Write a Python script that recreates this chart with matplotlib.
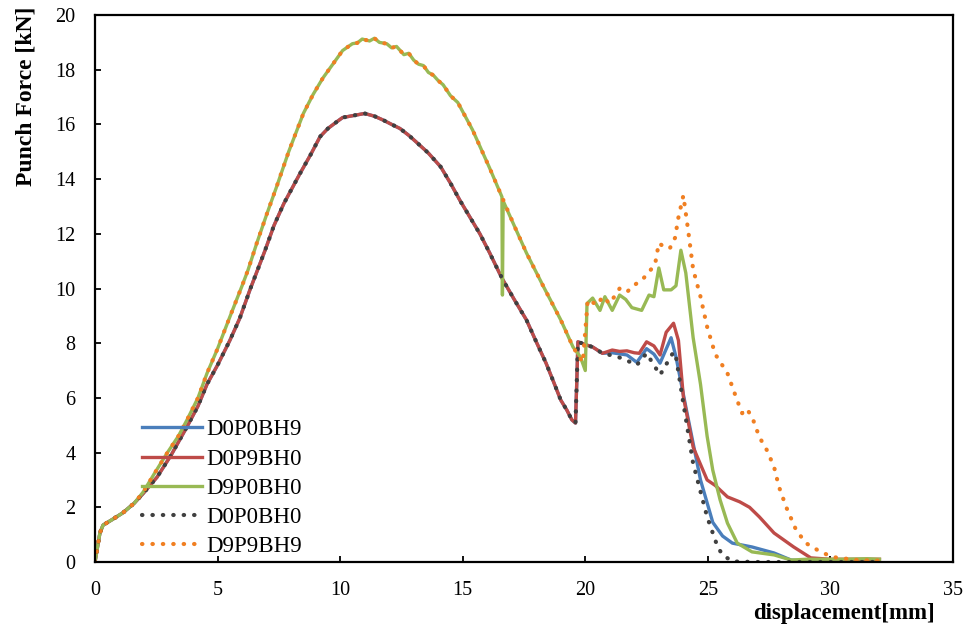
import numpy as np
import matplotlib
matplotlib.use('Agg')
import matplotlib.pyplot as plt

plt.rcParams['font.family'] = 'Liberation Serif'
plt.rcParams['axes.linewidth'] = 1.6
plt.rcParams['xtick.direction'] = 'in'
plt.rcParams['ytick.direction'] = 'in'
plt.rcParams['xtick.major.size'] = 4
plt.rcParams['ytick.major.size'] = 4
plt.rcParams['xtick.major.width'] = 1.3
plt.rcParams['ytick.major.width'] = 1.3
plt.rcParams['xtick.labelsize'] = 14.5
plt.rcParams['ytick.labelsize'] = 14.5

# shared start of the low curves (D0P0BH9, D0P9BH0, D0P0BH0)
low_x = [0, 0.2, 0.33, 0.7, 1.14, 1.6, 1.96, 2.53, 3.1, 3.75, 4.2, 4.57, 5.0, 5.5, 5.9, 6.32,
         6.94, 7.3, 7.7, 8.0, 8.36, 8.8, 9.18, 9.5, 9.87, 10.1, 10.4, 10.7, 11.0, 11.4, 11.75,
         12.1, 12.44, 12.8, 13.1, 13.6, 14.1, 14.5, 14.9, 15.3, 15.7, 16.1, 16.5, 16.65, 17.1,
         17.6, 18.0, 18.4, 18.7, 19.0, 19.25, 19.45, 19.6, 19.65, 19.7, 20.0, 20.3, 20.7]
low_y = [0, 1.06, 1.35, 1.55, 1.8, 2.15, 2.5, 3.1, 3.9, 4.94, 5.7, 6.5, 7.2, 8.1, 8.9, 9.95,
         11.4, 12.3, 13.1, 13.6, 14.2, 14.9, 15.55, 15.85, 16.1, 16.25, 16.3, 16.35, 16.4, 16.3, 16.16,
         16.0, 15.85, 15.6, 15.36, 14.95, 14.45, 13.85, 13.2, 12.6, 12.0, 11.3, 10.56, 10.3, 9.6,
         8.85, 8.05, 7.27, 6.6, 5.92, 5.55, 5.2, 5.08, 6.5, 8.05, 7.95, 7.86, 7.63]

# shared start of the high curves (D9P0BH0, D9P9BH9)
high_x = [0, 0.2, 0.33, 0.7, 1.14, 1.6, 1.96, 2.4, 2.94, 3.4, 3.75, 4.2, 4.57, 5.0, 5.5, 6.0,
          6.24, 6.6, 7.0, 7.4, 7.9, 8.5, 8.9, 9.3, 9.7, 10.1, 10.5, 10.7, 10.9, 11.2, 11.4, 11.6,
          11.9, 12.1, 12.3, 12.6, 12.8, 13.0, 13.2, 13.4, 13.6, 13.8, 14.0, 14.2, 14.5, 14.8,
          15.1, 15.4, 15.8, 16.1, 16.6]
high_y = [0, 1.06, 1.35, 1.55, 1.8, 2.15, 2.55, 3.2, 3.98, 4.6, 5.19, 6.0, 6.9, 7.8, 8.96, 10.1,
          10.67, 11.66, 12.7, 13.7, 15.0, 16.4, 17.1, 17.7, 18.2, 18.7, 18.95, 18.98, 19.12, 19.05, 19.15, 19.0,
          18.95, 18.8, 18.85, 18.55, 18.6, 18.35, 18.2, 18.15, 17.9, 17.8, 17.6, 17.45, 17.05, 16.8,
          16.3, 15.8, 15.0, 14.4, 13.35]

# tails
blue_x = [21.1, 21.7, 22.1, 22.5, 22.8, 23.05, 23.5, 23.7, 24.15, 24.7, 25.2, 25.6, 26.0, 26.8,
          27.7, 28.4, 29.0, 31.5]
blue_y = [7.65, 7.57, 7.3, 7.8, 7.6, 7.27, 8.2, 7.5, 5.45, 3.0, 1.45, 0.95, 0.69, 0.55,
          0.33, 0.07, 0.05, 0.05]

red_x = [21.1, 21.4, 21.7, 22.0, 22.2, 22.5, 22.8, 23.05, 23.3, 23.6, 23.8, 24.0, 24.4, 24.97,
         25.3, 25.8, 26.3, 26.7, 27.1, 27.7, 28.5, 29.2, 30.0, 31.0, 32.0]
red_y = [7.75, 7.7, 7.72, 7.65, 7.63, 8.05, 7.9, 7.57, 8.4, 8.73, 8.1, 6.05, 4.2, 3.0,
         2.8, 2.38, 2.2, 2.0, 1.65, 1.06, 0.55, 0.15, 0.1, 0.1, 0.1]

green_x = [16.62, 16.65, 17.1, 17.6, 18.3, 19.0, 19.5, 19.8, 20.0, 20.07, 20.3, 20.6, 20.8, 21.1,
           21.4, 21.65, 21.9, 22.3, 22.6, 22.8, 23.0, 23.2, 23.5, 23.7, 23.9, 24.1, 24.4, 24.7,
           24.97, 25.2, 25.5, 25.8, 26.2, 26.8, 27.7, 28.4, 29.0, 30.5, 31.5, 32.0]
green_y = [9.76, 13.2, 12.3, 11.3, 10.06, 8.85, 7.86, 7.5, 7.0, 9.45, 9.65, 9.2, 9.7, 9.2,
           9.76, 9.6, 9.3, 9.2, 9.76, 9.7, 10.75, 9.95, 9.95, 10.1, 11.4, 10.57, 8.2, 6.5,
           4.6, 3.36, 2.27, 1.42, 0.69, 0.37, 0.26, 0.07, 0.1, 0.1, 0.12, 0.1]

gray_x = [21.1, 21.5, 22.1, 22.5, 23.05, 23.6, 23.7, 24.0, 24.4, 24.97, 25.4, 25.6, 26.0, 27.0, 32.0]
gray_y = [7.55, 7.45, 7.2, 7.63, 6.84, 7.68, 7.5, 5.8, 3.6, 1.65, 0.55, 0.26, 0.02, 0.0, 0.0]

orange_x = [17.1, 17.6, 18.3, 19.0, 19.5, 19.9, 20.1, 20.5, 20.7, 21.0, 21.4, 21.7, 21.95, 22.3,
            22.6, 22.85, 23.0, 23.25, 23.45, 23.66, 23.8, 24.0, 24.2, 24.4, 24.7, 24.97, 25.3,
            25.8, 26.2, 26.4, 26.6, 26.85, 27.1, 27.4, 27.7, 27.9, 28.2, 28.6, 29.0, 29.6, 30.1,
            31.1, 32.0]
orange_y = [12.3, 11.3, 10.06, 8.85, 7.86, 7.3, 9.58, 9.4, 9.7, 9.45, 10.0, 9.87, 10.1, 10.3,
            10.6, 10.9, 11.66, 11.5, 11.47, 11.85, 12.6, 13.4, 12.1, 10.7, 9.7, 8.6, 7.6,
            6.9, 5.9, 5.44, 5.6, 5.19, 4.57, 4.1, 3.48, 2.75, 2.0, 1.17, 0.69, 0.37, 0.18,
            0.07, 0.05]

labels = ['D0P0BH9', 'D0P9BH0', 'D9P0BH0', 'D0P0BH0', 'D9P9BH9']
colors = ['#4A7EBB', '#BE4B48', '#98B954', '#404040', '#F07F22']

fig = plt.figure(figsize=(9.67, 6.3), dpi=100)
ax = fig.add_axes([95/967, 1-562/630, 858/967, 547/630])

dots = (0, (0.1, 2.4))
ax.plot(low_x + blue_x, low_y + blue_y, color=colors[0], lw=2.4, label=labels[0])
ax.plot(low_x + red_x, low_y + red_y, color=colors[1], lw=2.4, label=labels[1])
ax.plot(high_x + green_x, high_y + green_y, color=colors[2], lw=2.4, label=labels[2])
ax.plot(low_x + gray_x, low_y + gray_y, color=colors[3], lw=3.0, linestyle=dots,
        dash_capstyle='round', label=labels[3])
ax.plot(high_x + orange_x, high_y + orange_y, color=colors[4], lw=3.0, linestyle=dots,
        dash_capstyle='round', label=labels[4])

ax.set_xlim(0, 35)
ax.set_ylim(0, 20)
ax.set_xticks(np.arange(0, 36, 5))
ax.set_yticks(np.arange(0, 21, 2))
ax.tick_params(axis='x', pad=14)
ax.tick_params(axis='y', pad=14)

ax.set_xlabel('displacement[mm]', fontsize=16.5, fontweight='bold', loc='right')
ax.xaxis.set_label_coords(0.979, -0.075)
ax.set_ylabel('Punch Force [kN]', fontsize=17, fontweight='bold', loc='top')
ax.yaxis.set_label_coords(-0.068, 1.015)

ax.legend(loc='lower left', bbox_to_anchor=(0.05, 0.0), frameon=False, fontsize=16.5,
          handlelength=2.6, handletextpad=0.2, labelspacing=0.36, borderpad=0, borderaxespad=0.2)

plt.savefig('out.png', dpi=100)
plt.close()
